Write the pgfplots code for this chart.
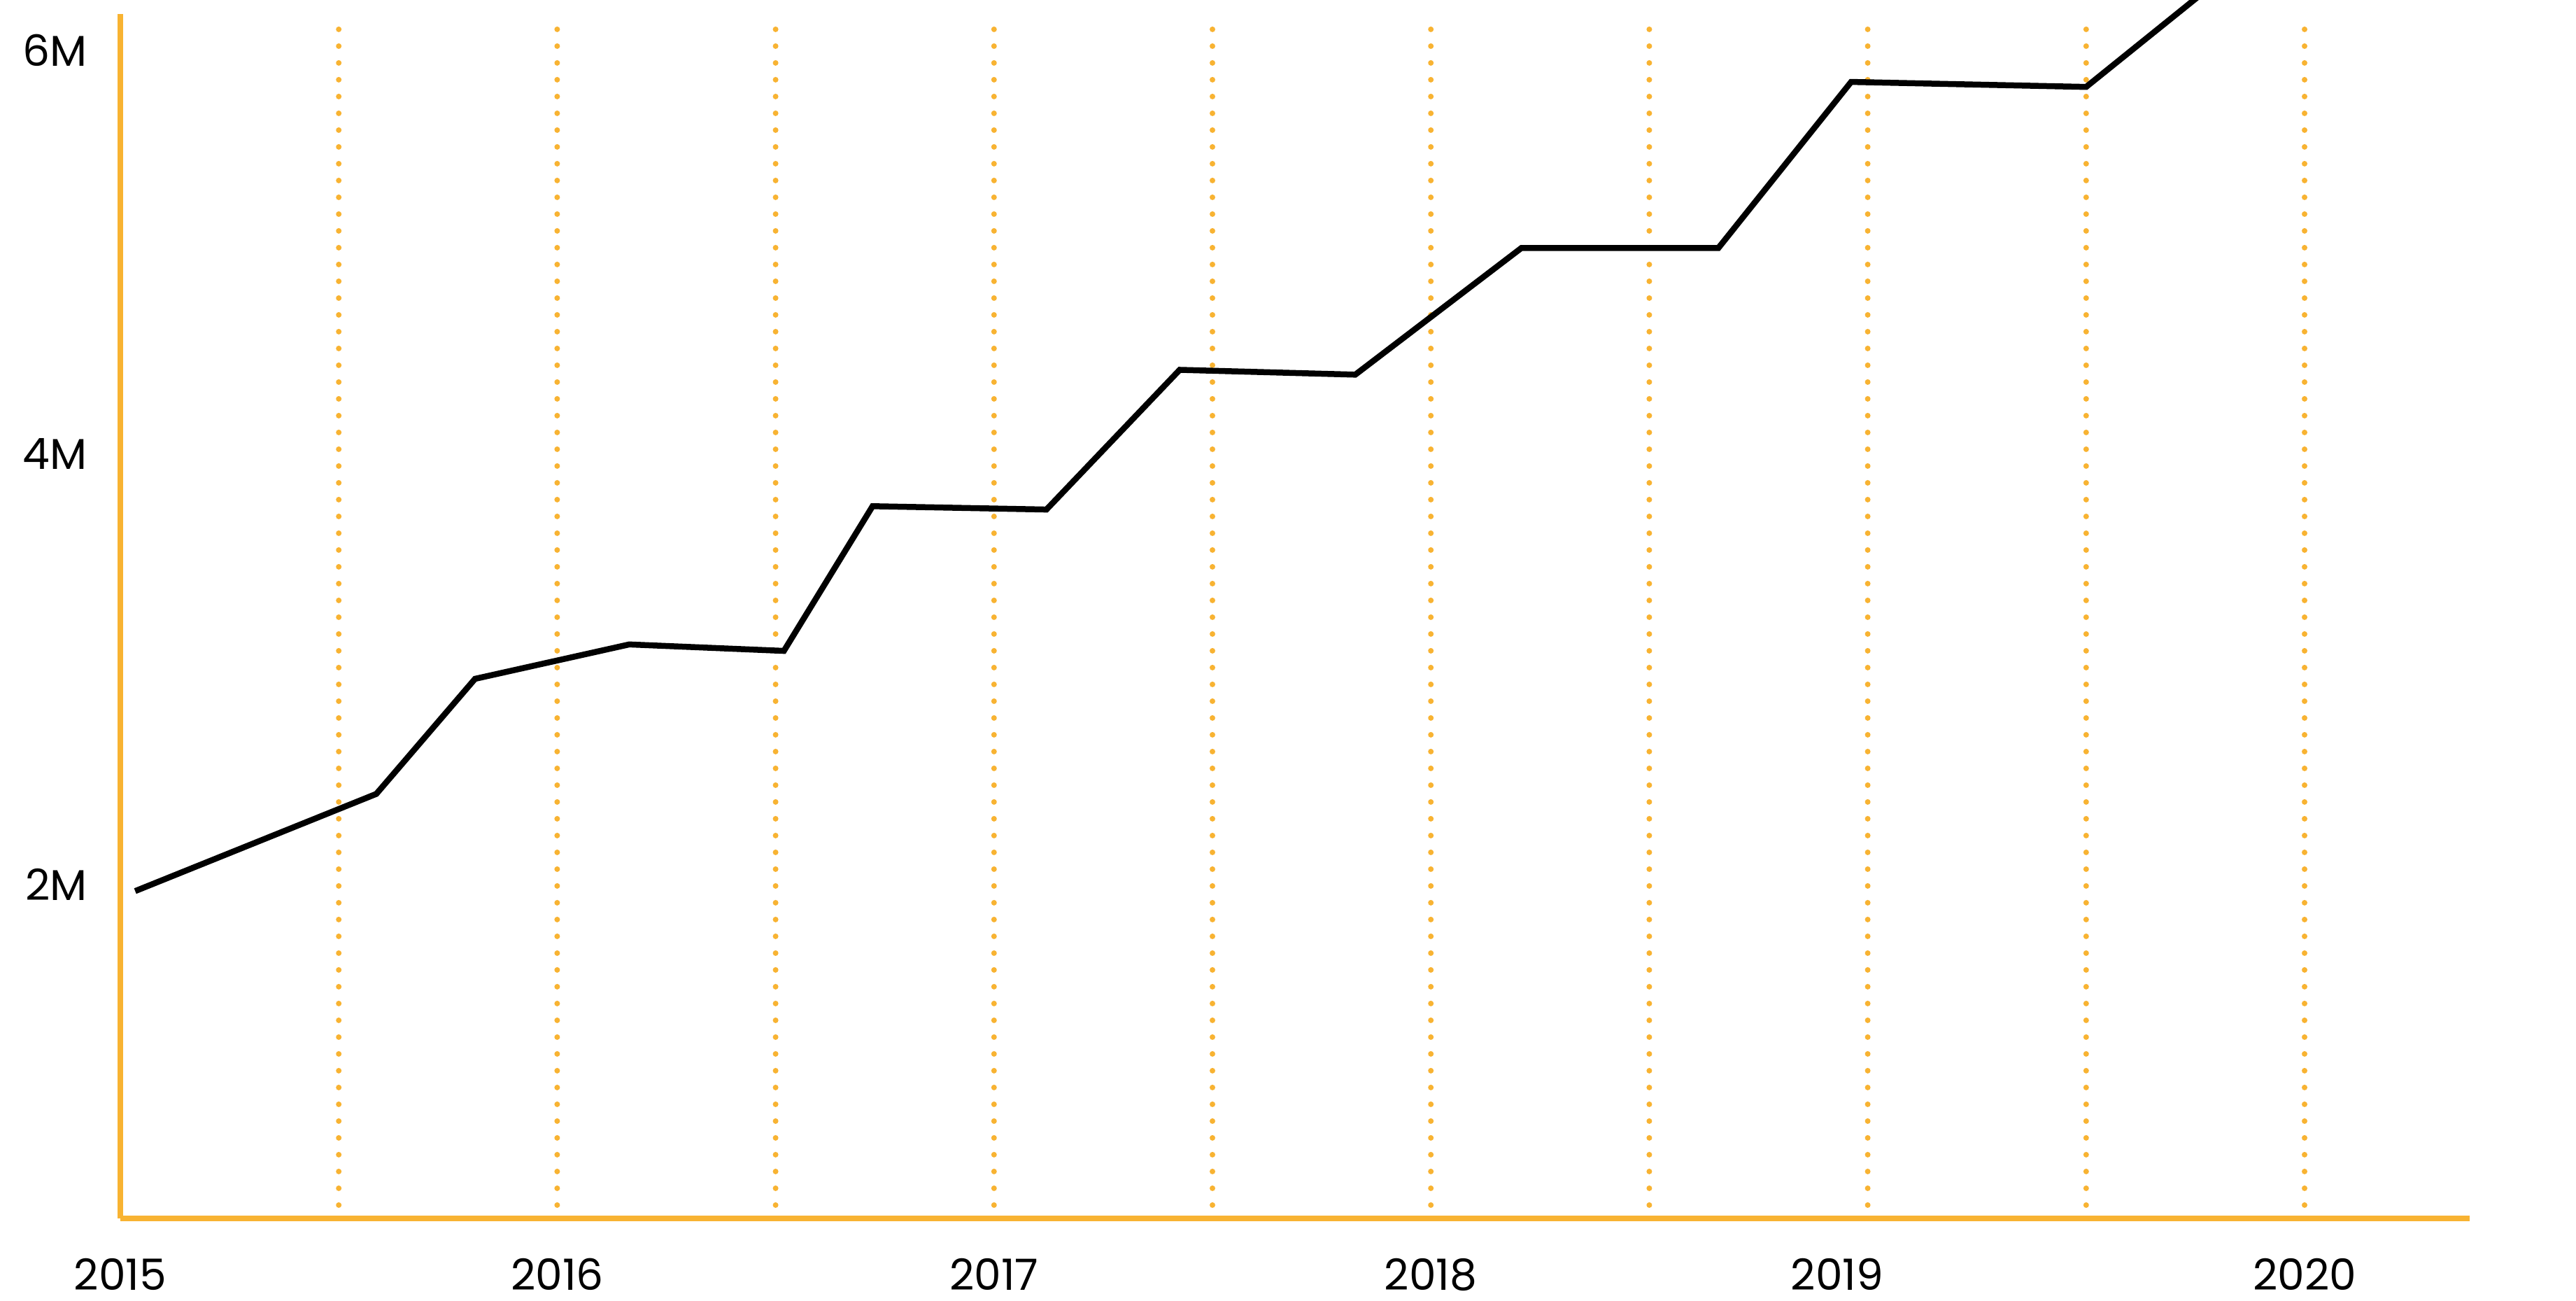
\documentclass[border=0pt]{standalone}
\usepackage{fontspec}
\setmainfont{Poppins}
\usepackage{pgfplots}
\pgfplotsset{compat=1.18}
\definecolor{axorange}{HTML}{F8B332}
\begin{document}
\begin{tikzpicture}
\begin{axis}[
  at={(0,0)}, anchor=south west,
  scale only axis,
  width=671.6pt, height=348.2pt,
  xmin=2015, xmax=2020.378,
  ymin=0.398, ymax=6.242,
  axis x line=bottom, axis y line=left,
  axis line style={-, draw=axorange, line width=1.7pt},
  y axis line style={shorten >=4pt},
  major tick length=0pt,
  xtick={2015,2016,2017,2018,2018.93,2020},
  xticklabels={2015,2016,2017,2018,2019,2020},
  ytick={2,4.065,6},
  yticklabels={2M,4M,6M},
  /pgf/number format/assume math mode=true,
  tick label style={font=\fontsize{12.3}{14}\selectfont, text=black},
  xticklabel style={anchor=north, inner sep=0pt, yshift=-11.3pt},
  yticklabel style={anchor=east, xshift=-6pt},
  clip=true,
]
\pgfplotsinvokeforeach{2015.5,2016,2016.5,2017,2017.5,2018,2018.5,2019,2019.5,2020}{
  \draw[axorange, line width=1.6pt, line cap=round, dash pattern=on 0pt off 4.8pt]
    (axis cs:#1,0.462) -- (axis cs:#1,6.114);
}
\addplot[black, line width=1.7pt, line join=miter] coordinates {
(2015.034,1.968)
(2015.586,2.434)
(2015.812,2.986)
(2016.165,3.151)
(2016.519,3.120)
(2016.722,3.814)
(2017.120,3.798)
(2017.425,4.468)
(2017.827,4.445)
(2018.207,5.052)
(2018.658,5.052)
(2018.962,5.849)
(2019.500,5.825)
(2020.000,6.669)
};
\end{axis}
\pgfresetboundingbox
\path (-34.4pt,-23.6pt) rectangle (702pt,348.2pt);
\end{tikzpicture}
\end{document}
